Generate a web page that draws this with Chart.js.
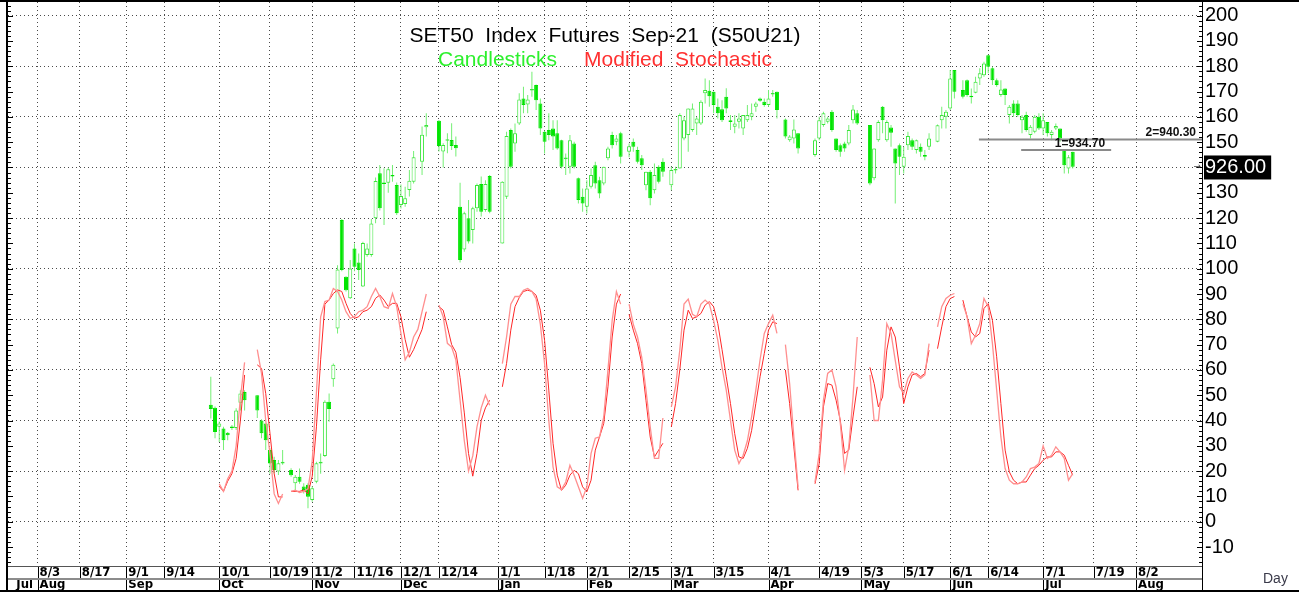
<!DOCTYPE html>
<html>
<head>
<meta charset="utf-8">
<script src="https://cdn.jsdelivr.net/npm/chart.js@4.4.1/dist/chart.umd.min.js"></script>
<style>
html, body { margin: 0; padding: 0; background: #fff; }
</style>
</head>
<body>
<canvas id="chart" width="1299" height="592"></canvas>
<script>
// slot index of the first candle (weekdays counted from 8/3)
var firstSlot = 41;

var opens = [
  46.2, 45, 37.5, 36.8, 35.2, 37.2, 37, 47, 51.3,
  null, null,
  50, 40, 38.8, 28.3, 24.4, 19.8, 23,
  null,
  20.4, 15.2, 17.8, 13.9, 14.6, 8.6, 15.8, 23, 26, 47.4, 56.3,
  76.4, 119.2, 96.8, 88.3, 108, 102.4, 93, 105.4, 105.4, 119.9, 137.7, 134, 134, 136.8, 133.1, 125.2, 125.6, 131.1, 134.4,
  null, 142.3, 155.9, null, null,
  158.5, 146.3, 150.6, 150.9, 148.9, 124.5, 107.6, 119.9, 115.3, 123.9, 133.5, 123.2, 136.6,
  null, null,
  110, 128.4, 154.8, 149.5, 157.4, 167.3, 164.9, 170.4, 172.6, 165.3, 154.1, 154.8, 155.4, 153.5, 150.8, 143.3, 140.3, 149.5, 135.7, 128.4, 124.5, 132.4, 140.9, 135, 133.7, 143.6, 152.8, 150.2, 153.5,
  null,
  146.2, 150.2, 146.9, 143.6, 133, 138.3, 131, 140.3, 142.3,
  null,
  133, 138.8, 139.6, 151.5, 152.8, 154.8, 157.4, 157.4, 169.3, 170.3, 169.9, 164, 163, 168, 158.7, 156.1, 158.1, 155.4, 158.7, 160, 164, 167.3, 166, 164.7, 168.8, 169.9,
  null,
  159, 150.8, 151.5, 153.5,
  null, null, null,
  144.9, 151.5, 156.8, 158.1, 162, 151.5, 148.8, 149.5, 149.5, 158.7, 161.4,
  null, null,
  156.8, 135.7, 150.8, 164, 150.8, 155.8, 147.5, 148.8, 140.3, 148.8, 150.8, 146.9, 148.2, 144.9, 148.2,
  null,
  150.2, 158.7, 160, 163.3, 178.5,
  null,
  170.6, 174.5, 168.2, 169.5, 175.2, 176.5, 184.4, 179.2, 174.5, 168.6, 171.2, 160.7, 165.3, 165.3, 158.7, 160.7, 152.8, 154.1, 160, 155.4, 158, 152.8, 155.4, 155.4, 146.9, 139.6, 146.2
];
var highs = [
  57.3, 45.5, 39.6, 37.5, 35.5, 38.2, 44.8, 52, 52,
  null, null,
  50, 40.5, 38.8, 29, 25.7, 24.4, 28.3,
  null,
  21.1, 18.5, 21, 15.2, 15.2, 14, 23.7, 27, 48, 50.7, 62.5,
  101.4, 119.6, 97, 103.4, 110, 106, 110.6, 110, 119.6, 136, 141, 139.7, 140, 141, 134.1, 133.3, 132.4, 139, 146.5,
  null, 156.2, 161.4, null, null,
  158.8, 149.6, 153.5, 157.5, 152.2, 134, 122.5, 127.1, 124.5, 133.7, 136.4, 135, 137,
  null, null,
  134.6, 154.1, 155.4, 157.4, 169.3, 171.9, 168.6, 177.8, 172.8, 167.3, 154.5, 161.4, 158.7, 158.7, 151, 145.5, 152.8, 150.2, 136, 131.7, 135, 139.6, 142.3, 136.3, 140.3, 148.2, 154.1, 152.8, 154.1,
  null,
  149.5, 151.5, 148.2, 144.9, 138.3, 139, 141.6, 140.9, 143.6,
  null,
  140.3, 140.3, 161.4, 160, 163.3, 165.3, 160, 166.6, 175.2, 174.5, 170, 167.3, 166.6, 171.3, 160.7, 160.7, 161.4, 160.7, 164.7, 165.3, 166, 167.7, 167.3, 170.6, 170.6, 170,
  null,
  159.4, 152.8, 159, 153.5,
  null, null, null,
  151.5, 160, 162, 160, 162.7, 151.5, 149.5, 150.2, 156.8, 164.7, 162.7,
  null, null,
  156.8, 147.5, 158.7, 164.3, 158.7, 156.8, 147.5, 149.5, 148.2, 154.1, 151.5, 151.1, 149.5, 146.9, 153.5,
  null,
  157, 164, 162.7, 178.5, 178.5,
  null,
  174.5, 174.8, 171.2, 175.9, 179.2, 181.8, 184.6, 179.8, 175.2, 174.5, 171.2, 164.7, 166.6, 166.6, 160.7, 162, 156.8, 160.7, 161.4, 161.4, 158, 154.8, 157.4, 155.4, 146.9, 144.9, 146.2
];
var lows = [
  40.8, 33, 31.5, 28.3, 32.2, 36.2, 36.2, 44, 44,
  null, null,
  41, 33, 28.3, 19, 19.1, 18.5, 22.5,
  null,
  17.8, 11.9, 15, 11.2, 5.3, 7.9, 15.2, 19, 25.6, 39.5, 53.3,
  74.4, 99, 91, 88, 99, 95.5, 92.8, 104.7, 104.7, 118, 123, 117.3, 130, 134.4, 121.2, 123.8, 124.5, 128.5, 133.7,
  null, 137, 152.2, null, null,
  146.3, 140, 145.6, 146.9, 144.3, 102.4, 106.7, 110, 110, 122.5, 120.6, 122.5, 121.9,
  null, null,
  110, 127.5, 139.6, 146.2, 156.8, 161.4, 161.4, 168, 162.7, 152.8, 145.5, 150.8, 146.9, 147, 139.6, 137, 137.6, 139.6, 125.8, 122.5, 121.8, 131.7, 131.7, 127.8, 133, 142.9, 147.5, 148.8, 141.6,
  null,
  144, 146.2, 141.6, 139, 131, 125.1, 129.7, 133.7, 136.3,
  null,
  131, 137.6, 139.6, 150.8, 146.2, 154.1, 152.8, 156.8, 165.3, 164, 161.4, 159.4, 158, 161.4, 154.8, 153.5, 155.4, 152.8, 158, 158.7, 162, 166, 164, 164, 168, 159.4,
  null,
  151.5, 150.2, 149.5, 145.5,
  null, null, null,
  144.2, 150.8, 156.1, 157.4, 154.1, 146.2, 144.2, 146.2, 148.8, 157.4, 156.8,
  null, null,
  133, 135, 150.2, 153.5, 150.2, 148.2, 125.8, 137, 137.6, 146.9, 146.9, 145.5, 144.2, 142.9, 146.9,
  null,
  150, 155.4, 155.4, 162.7, 167.3,
  null,
  167.3, 168, 165.3, 169.3, 172.6, 175.9, 177.2, 172.6, 171.9, 168, 164.7, 157.4, 160, 160, 153.5, 154.1, 151.5, 153.5, 154.8, 152.8, 152.2, 150.8, 154.8, 150.2, 137.6, 137.6, 139.6
];
var closes = [
  44.5, 35.5, 38.8, 32.2, 34.2, 37, 44, 50.7, 48,
  null, null,
  44, 35, 32.2, 23, 20.4, 23.1, 23.7,
  null,
  18.4, 17.8, 15.8, 12.5, 9.9, 13.2, 23.1, 23.7, 47.4, 44.5, 62,
  99.7, 99.5, 91.5, 100.1, 100.8, 99.5, 110.2, 108, 117.9, 134.7, 123.9, 133.5, 139.3, 136.4, 121.9, 128.7, 127.8, 134.8, 144,
  null, 152.9, 156.8, null, null,
  148.5, 148.9, 151.2, 148.5, 147.6, 103.4, 121.9, 110.7, 123.9, 133.1, 122.5, 133.5, 122.5,
  null, null,
  134.4, 152.4, 140.3, 153.5, 166.9, 164.7, 166.9, 170.8, 166.6, 155.4, 150.2, 152.8, 152.2, 147.5, 140.3, 143.9, 150.8, 140.3, 127.1, 125.8, 131.7, 137, 133.7, 129.7, 140.3, 147.5, 148.8, 151.5, 144.2,
  null,
  148.4, 148.2, 142.3, 140.9, 138.3, 127.8, 137, 134.4, 138.3,
  null,
  139, 139.3, 160.7, 158.7, 163.3, 163.3, 159.4, 166, 170.6, 168.2, 164.7, 161.4, 158.7, 163.3, 158, 157.4, 159.4, 160.7, 160.7, 161.4, 165.3, 166.4, 164.7, 167.3, 169.2, 162.7,
  null,
  152.2, 152.2, 155, 147.5,
  null, null, null,
  150.8, 158.7, 161.4, 159.4, 154.8, 146.9, 146.2, 147.5, 154.8, 162.9, 157.4,
  null, null,
  133.7, 147.5, 158, 158.7, 158, 153.7, 141.6, 144.2, 144.2, 152.4, 148.2, 150.8, 146.2, 144.2, 151.5,
  null,
  156.7, 160.7, 162, 175.2, 169.9,
  null,
  168, 168.6, 167.8, 173.9, 177.2, 181.1, 179.8, 174.5, 172.6, 170.8, 168.6, 164, 161.4, 160.7, 160, 154.8, 156.1, 160, 155.4, 158.7, 153.5, 154.1, 156.4, 151.5, 140.9, 144, 140.3
];

// modified stochastic, fast (pale) and slow (red) lines
var kLine = [
  null, null, 15, 12, 17, 20, 30, 49, 63,
  null, null,
  68, 58.6, 40, 27, 11, 7.2, 11,
  null,
  12, 12.5, 11.5, 12, 13, 24, 51, 81, 87, 87.6, 92.2,
  91, 87.6, 83, 80.4, 81, 83, 83.6, 85, 89, 92.2, 89, 85, 84.3, 90.2, 85, 74.4, 64, 67, 73,
  76, 83, 90, null, null,
  85.6, 81, 70.5, 69, 64, 48, 32, 20, 26, 37.5, 45, 50, 46,
  null, null,
  62.5, 73, 86, 89, 89, 91.5, 92.2, 91, 88, 78, 62.5, 40, 21.7, 13.8, 12.7, 15.7, 22.3, 18.4, 13.8, 9.2, 13.8, 27, 33, 33.5, 41.4, 60, 79.6, 91, 86,
  null,
  86, 78, 73, 65, 52, 37.5, 25, 25, 41,
  null,
  45.4, 53.3, 67.8, 86, 88, 82, 81, 86, 87.6, 86, 79.6, 71.7, 61, 52, 40, 28.3, 23, 26.3, 32, 41.4, 52, 64, 74.4, 78.3, 81.6, 74.4,
  null,
  70, 54.6, 33.5, 13.8,
  null, null, null,
  15.7, 27, 48, 58.6, 60, 53.3, 38.8, 20.3, 29.6, 49.3, 73,
  null, null,
  58, 40, 40, 56, 78.3, 74.4, 63.8, 53.3, 50.7, 56.6, 59.2, 58, 56.6, 58, 70.4,
  null,
  77, 85, 88.2, 89.5, 90.2,
  null,
  86.2, 81, 70.4, 73.7, 78.3, 88.2, 85, 70.4, 52, 33.5, 21, 16.4, 15, 15, 15.7, 17.7, 21, 21.6, 23, 30, 25, 26.3, 29.6, 27.6, 25, 16.4, 19
];
var dLine = [
  null, null, 14, 12, 16, 19, 25, 40, 58,
  null, null,
  62, 60.6, 50.7, 35, 19, 9.8, 9.8,
  null,
  12, 12, 12, 12.5, 11, 18, 37.5, 64, 86, 87.6, 90.2,
  91.6, 91, 86.3, 82.3, 80.4, 81, 83, 83.6, 85, 88.3, 89.6, 87.6, 85, 86.3, 86.3, 81, 72, 65, 68,
  72, 76, 83, null, null,
  85, 83.6, 77, 70, 67, 57, 43, 27, 18, 27, 40, 45, 48,
  null, null,
  53.3, 62.5, 75.7, 85, 88.6, 91, 91.5, 91, 89.5, 83.6, 71.7, 52, 31, 18.4, 12.4, 14.4, 18.4, 20.3, 19, 13.8, 11.8, 16.4, 28.3, 33.5, 38.8, 53.3, 73, 86, 90,
  null,
  82, 75.7, 70.4, 62.5, 48, 33.5, 25.6, 28.3, 31,
  null,
  37.5, 46.7, 60, 75.7, 83.6, 80.3, 81, 82.3, 85.6, 87, 85, 78.3, 68, 57.3, 46.7, 34.8, 25.6, 25, 29, 36, 46.7, 57.3, 66.5, 75.7, 79, 78.3,
  null,
  60, 46.7, 29.6, 12.4,
  null, null, null,
  15, 23, 45.4, 54.6, 54, 48, 40, 27, 28.3, 41.4, 53.3,
  null, null,
  61, 54.6, 45.4, 49.3, 67.8, 77, 73, 61.2, 46.7, 53.3, 58, 58.6, 57.3, 58.6, 67.8,
  null,
  68.4, 77, 85, 88.2, 89,
  null,
  87.6, 81, 75, 73, 74.4, 84.3, 86.2, 79.6, 65.2, 46.7, 28.3, 19.7, 16.4, 15, 15.7, 15.7, 18.4, 21, 22.3, 24.3, 25.6, 25.6, 27.6, 27.6, 26.3, 22.3, 18.4
];

// horizontal levels drawn on the chart
var levelValues = [146.9, 151.1];
var levelTexts = ['1=934.70', '2=940.30'];
var levelFrom = [232.8, 222.8];
var levelTo = [254.1, 275.6];

var dateTickPos = [0, 10, 21, 30, 43, 55, 65, 75, 86, 95, 109, 120, 130, 140, 150, 160, 173, 185, 195, 205, 216, 225, 238, 250, 260];
var dateTickLabels = ['8/3', '8/17', '9/1', '9/14', '10/1', '10/19', '11/2', '11/16', '12/1', '12/14', '1/1', '1/18', '2/1', '2/15', '3/1', '3/15', '4/1', '4/19', '5/3', '5/17', '6/1', '6/14', '7/1', '7/19', '8/2'];
var monthTickPos = [-5.5, 0, 21, 43, 65, 86, 109, 130, 150, 173, 195, 216, 238, 260];
var monthLabels = ['Jul', 'Aug', 'Sep', 'Oct', 'Nov', 'Dec', 'Jan', 'Feb', 'Mar', 'Apr', 'May', 'Jun', 'Jul', 'Aug'];
var yTicks = [-10, 0, 10, 20, 30, 40, 50, 60, 70, 80, 90, 100, 110, 120, 130, 140, 150, 160, 170, 180, 190, 200];
var priceTagLevel = 140;
var priceTagText = '926.00';

var xMin = -7, xMax = 275.6;
var greenFill = '#00e400', greenEdge = '#3be63b', wickGreen = '#74ef74';

var wickData = [], bodyData = [], bodyFill = [], bodyEdge = [];
for (var i = 0; i < opens.length; i++) {
  if (opens[i] === null) continue;
  wickData.push({x: firstSlot + i, y: [lows[i], highs[i]]});
  bodyData.push({x: firstSlot + i, y: [opens[i], closes[i]]});
  var up = closes[i] >= opens[i];
  bodyFill.push(up ? '#ffffff' : greenFill);
  bodyEdge.push(up ? greenEdge : greenFill);
}
var kData = kLine.map(function (v, i) { return {x: firstSlot + i, y: v}; });
var dData = dLine.map(function (v, i) { return {x: firstSlot + i, y: v}; });

var datasets = [
  {type: 'line', data: kData, borderColor: '#ff8f8f', borderWidth: 1.3, pointRadius: 0, spanGaps: false, order: 0},
  {type: 'line', data: dData, borderColor: '#ff2626', borderWidth: 1, pointRadius: 0, spanGaps: false, order: 0},
  {type: 'bar', data: bodyData, backgroundColor: bodyFill, borderColor: bodyEdge, borderWidth: 1,
   borderSkipped: false, barThickness: 4, grouped: false, minBarLength: 1.5, inflateAmount: 0, order: 1},
  {type: 'bar', data: wickData, backgroundColor: wickGreen, borderWidth: 0,
   barThickness: 1, grouped: false, inflateAmount: 0, order: 2}
];
levelValues.forEach(function (v, k) {
  datasets.push({type: 'line', data: [{x: levelFrom[k], y: v}, {x: levelTo[k], y: v}],
    borderColor: '#8a8a8a', borderWidth: 2, pointRadius: 0, order: 0});
});

var axisFont = {family: '"Liberation Sans Narrow", "DejaVu Sans Condensed", "Liberation Sans", Arial', size: 13, weight: 'bold', lineHeight: 1};

var decor = {
  id: 'decor',
  afterDraw: function (chart) {
    var ctx = chart.ctx, a = chart.chartArea;
    var sx = chart.scales.x, sm = chart.scales.x2, sy = chart.scales.y;
    ctx.save();

    // ruler marks on both vertical edges
    ctx.strokeStyle = '#000';
    ctx.lineWidth = 1;
    ctx.beginPath();
    for (var v = Math.ceil(sy.min / 2) * 2; v <= sy.max; v += 2) {
      var py = Math.round(sy.getPixelForValue(v)) + 0.5;
      var len = v % 10 === 0 ? 5 : 3;
      ctx.moveTo(a.right - len, py); ctx.lineTo(a.right, py);
      ctx.moveTo(a.left, py); ctx.lineTo(a.left + len, py);
    }
    ctx.stroke();

    // cell separators in the two date rows
    ctx.beginPath();
    sx.ticks.forEach(function (t) {
      var px = Math.round(sx.getPixelForValue(t.value)) + 0.5;
      ctx.moveTo(px, sx.top); ctx.lineTo(px, sx.bottom);
    });
    sm.ticks.forEach(function (t) {
      if (t.value < 0) return;
      var px = Math.round(sm.getPixelForValue(t.value)) + 0.5;
      ctx.moveTo(px, sm.top); ctx.lineTo(px, sm.bottom);
    });
    ctx.stroke();

    ctx.strokeStyle = '#555';
    ctx.beginPath();
    ctx.moveTo(a.left, sx.top + 0.5); ctx.lineTo(a.right, sx.top + 0.5);
    ctx.stroke();
    ctx.strokeStyle = '#8c8c8c';
    ctx.lineWidth = 2;
    ctx.beginPath();
    ctx.moveTo(a.left, sm.top + 1); ctx.lineTo(a.right, sm.top + 1);
    ctx.stroke();

    // frame
    ctx.strokeStyle = '#000';
    ctx.lineWidth = 2;
    ctx.beginPath();
    ctx.moveTo(0, chart.height - 1); ctx.lineTo(chart.width, chart.height - 1);
    ctx.moveTo(a.left - 1, 0); ctx.lineTo(a.left - 1, chart.height);
    ctx.moveTo(0, 1); ctx.lineTo(chart.width, 1);
    ctx.stroke();
    ctx.lineWidth = 1;
    ctx.beginPath();
    ctx.moveTo(a.right + 0.5, 0); ctx.lineTo(a.right + 0.5, chart.height);
    ctx.stroke();

    // level labels
    ctx.fillStyle = '#111';
    ctx.font = 'bold 12px "Liberation Sans", Arial';
    ctx.textAlign = 'right';
    ctx.textBaseline = 'alphabetic';
    levelValues.forEach(function (v, k) {
      ctx.fillText(levelTexts[k], sx.getPixelForValue(levelTo[k]) - 6, sy.getPixelForValue(v) - 3);
    });

    // small marker at last price
    ctx.font = '9px "DejaVu Sans"';
    ctx.fillStyle = '#444';
    ctx.textBaseline = 'middle';
    ctx.fillText('\u2192', a.right - 1, sy.getPixelForValue(closes[closes.length - 1]));

    // titles
    var cx = (a.left + a.right) / 2;
    ctx.font = '21px "Liberation Sans", Arial';
    ctx.textAlign = 'center';
    ctx.fillStyle = '#000';
    ctx.fillText('SET50  Index  Futures  Sep-21  (S50U21)', cx, 36);
    var s1 = 'Candlesticks', s2 = 'Modified  Stochastic', gap = 27;
    var w1 = ctx.measureText(s1).width, w2 = ctx.measureText(s2).width;
    var x0 = cx - (w1 + gap + w2) / 2;
    ctx.textAlign = 'left';
    ctx.fillStyle = '#2cf02c';
    ctx.fillText(s1, x0, 60);
    ctx.fillStyle = '#ff3030';
    ctx.fillText(s2, x0 + w1 + gap, 60);

    ctx.font = '14px "Liberation Sans", Arial';
    ctx.fillStyle = '#3a3a4a';
    ctx.fillText('Day', 1263, 579);
    ctx.restore();
  }
};

new Chart(document.getElementById('chart'), {
  type: 'bar',
  data: {datasets: datasets},
  options: {
    responsive: false,
    animation: false,
    events: [],
    layout: {padding: {left: 8, top: 2, right: 0, bottom: 2}},
    plugins: {legend: {display: false}, tooltip: {enabled: false}},
    scales: {
      x: {
        type: 'linear', position: 'bottom', min: xMin, max: xMax, offset: false,
        afterBuildTicks: function (s) { s.ticks = dateTickPos.map(function (v) { return {value: v}; }); },
        afterFit: function (s) { s.height = 12; s.paddingLeft = 0; s.paddingRight = 0; },
        grid: {color: '#4a4a4a', lineWidth: 1, drawTicks: false, offset: false},
        border: {display: false, dash: [1, 3]},
        ticks: {autoSkip: false, maxRotation: 0, align: 'start', labelOffset: 2, padding: 0, color: '#000', font: axisFont,
          callback: function (v, i) { return dateTickLabels[i]; }}
      },
      x2: {
        type: 'linear', position: 'bottom', min: xMin, max: xMax, offset: false,
        afterBuildTicks: function (s) { s.ticks = monthTickPos.map(function (v) { return {value: v}; }); },
        afterFit: function (s) { s.height = 12; s.paddingLeft = 0; s.paddingRight = 0; },
        grid: {drawOnChartArea: false, drawTicks: false, offset: false},
        border: {display: false},
        ticks: {autoSkip: false, maxRotation: 0, align: 'start', labelOffset: 2, padding: 0, color: '#000', font: axisFont,
          callback: function (v, i) { return monthLabels[i]; }}
      },
      y: {
        type: 'linear', position: 'right', min: -17.5, max: 205.4,
        afterBuildTicks: function (s) { s.ticks = yTicks.map(function (v) { return {value: v}; }); },
        afterFit: function (s) { s.width = 97; s.paddingTop = 0; s.paddingBottom = 0; },
        grid: {
          color: function (c) { return c.tick && c.tick.value % 20 === 0 ? '#4a4a4a' : 'rgba(0,0,0,0)'; },
          lineWidth: 1, drawTicks: false
        },
        border: {display: false, dash: [1, 3]},
        ticks: {
          autoSkip: false,
          padding: 3,
          font: {family: '"Liberation Sans", Arial', size: 20, lineHeight: 1.2},
          color: function (c) { return c.tick && c.tick.value === priceTagLevel ? '#fff' : '#000'; },
          showLabelBackdrop: function (c) { return !!(c.tick && c.tick.value === priceTagLevel); },
          backdropColor: '#000',
          backdropPadding: {left: 1, right: 5, top: 0, bottom: 0},
          callback: function (v) { return v === priceTagLevel ? priceTagText : String(v); }
        }
      }
    }
  },
  plugins: [decor]
});
</script>
</body>
</html>
